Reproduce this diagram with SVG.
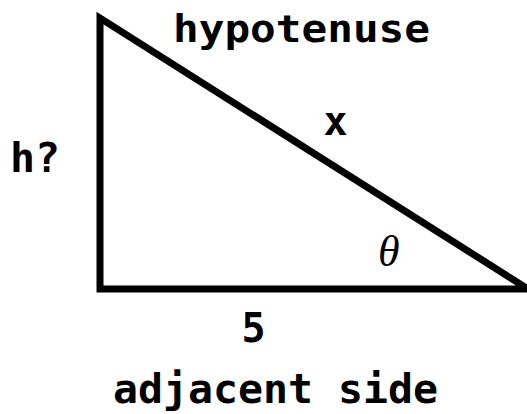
<svg xmlns="http://www.w3.org/2000/svg" width="527" height="414" viewBox="0 0 527 414">
  <style>
    .lbl { font-family: "DejaVu Sans Mono", "Liberation Mono", monospace; font-weight: bold; fill: #000; }
    .greek { font-family: "Liberation Serif", "DejaVu Serif", serif; font-style: italic; fill: #000; }
  </style>
  <rect width="527" height="414" fill="#fff"/>
  <g id="connectors">
    <polygon id="triangle" points="100,18 100,289 528,289" fill="none" stroke="#000" stroke-width="7" stroke-linejoin="miter" stroke-miterlimit="10"/>
  </g>
  <g id="label-hypotenuse">
    <text class="lbl" x="173" y="42" font-size="37" textLength="257" lengthAdjust="spacingAndGlyphs">hypotenuse</text>
  </g>
  <g id="label-x">
    <text class="lbl" x="335.5" y="135" font-size="40" text-anchor="middle">x</text>
  </g>
  <g id="label-h">
    <text class="lbl" x="10" y="172" font-size="40" textLength="50" lengthAdjust="spacingAndGlyphs">h?</text>
  </g>
  <g id="label-theta">
    <text class="greek" x="378" y="266" font-size="44">θ</text>
  </g>
  <g id="label-5">
    <text class="lbl" x="253.5" y="342" font-size="40" text-anchor="middle">5</text>
  </g>
  <g id="label-adjacent">
    <text class="lbl" x="113" y="403" font-size="40" textLength="325" lengthAdjust="spacingAndGlyphs">adjacent side</text>
  </g>
</svg>
